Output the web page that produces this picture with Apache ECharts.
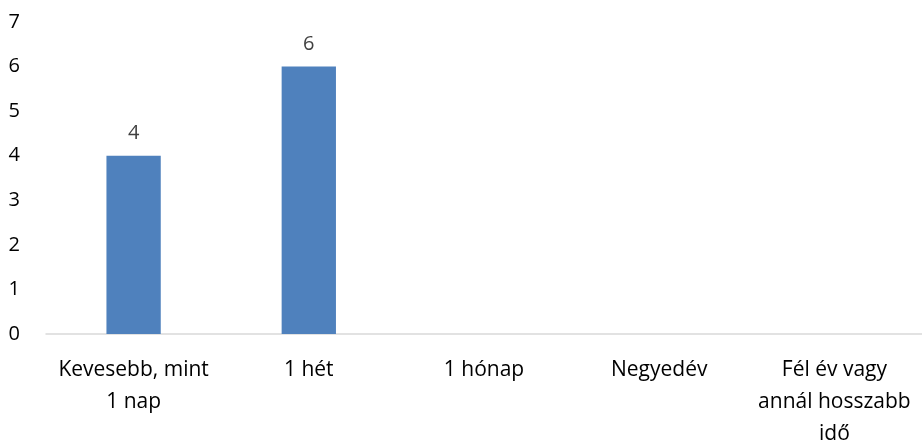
<!DOCTYPE html>
<html>
<head>
<meta charset="utf-8">
<script src="https://cdn.jsdelivr.net/npm/echarts@6/dist/echarts.min.js"></script>
<style>
  html, body { margin: 0; padding: 0; background: #fff; }
  #chart { width: 922px; height: 443px; }
</style>
</head>
<body>
<div id="chart"></div>
<script>
// Categories and counts
const categories = ['Kevesebb, mint\n1 nap', '1 hét', '1 hónap', 'Negyedév', 'Fél év vagy\nannál hosszabb\nidő'];
const counts = [4, 6, null, null, null];
const yTicks = [0, 1, 2, 3, 4, 5, 6, 7];

const chart = echarts.init(document.getElementById('chart'), null, { renderer: 'canvas' });
const font = '"Open Sans", "Noto Sans", sans-serif';

chart.setOption({
  animation: false,
  grid: { left: 46, right: 0, top: 22, bottom: 109, containLabel: false, outerBoundsMode: 'none' },
  xAxis: {
    type: 'category',
    data: categories,
    axisLine: { lineStyle: { color: '#d9d9d9', width: 1.5 } },
    axisTick: { show: false },
    axisLabel: {
      interval: 0,
      color: '#000',
      fontFamily: font,
      fontSize: 21,
      lineHeight: 32,
      margin: 20
    }
  },
  yAxis: {
    type: 'value',
    min: yTicks[0],
    max: yTicks[yTicks.length - 1],
    interval: 1,
    splitLine: { show: false },
    axisLine: { show: false },
    axisTick: { show: false },
    axisLabel: {
      color: '#000',
      fontFamily: font,
      fontSize: 20,
      margin: 26
    }
  },
  series: [{
    type: 'bar',
    data: counts,
    barWidth: '31%',
    itemStyle: { color: '#4f81bd' },
    label: {
      show: true,
      position: 'top',
      distance: 12,
      color: '#404040',
      fontFamily: font,
      fontSize: 20
    }
  }]
});
</script>
</body>
</html>
